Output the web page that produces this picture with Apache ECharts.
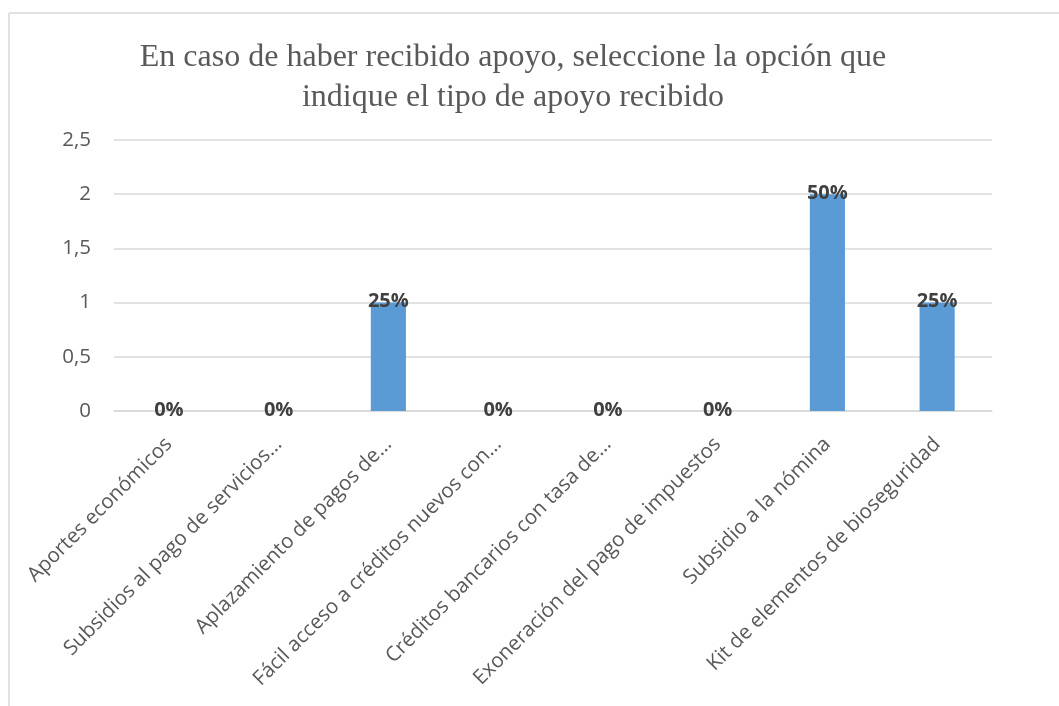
<!DOCTYPE html>
<html>
<head>
<meta charset="utf-8">
<script src="https://cdn.jsdelivr.net/npm/echarts@6/dist/echarts.min.js"></script>
<style>html,body{margin:0;padding:0;background:#fff;}#c{width:1059px;height:706px;}</style>
</head>
<body>
<div id="c"></div>
<script>
const categories = [
  'Aportes económicos',
  'Subsidios al pago de servicios…',
  'Aplazamiento de pagos de…',
  'Fácil acceso a créditos nuevos con…',
  'Créditos bancarios con tasa de…',
  'Exoneración del pago de impuestos',
  'Subsidio a la nómina',
  'Kit de elementos de bioseguridad'
];
const values = [0, 0, 1, 0, 0, 0, 2, 1];
const pctLabels = ['0%', '0%', '25%', '0%', '0%', '0%', '50%', '25%'];
const yTicks = [0, 0.5, 1, 1.5, 2, 2.5];
const titleLines = ['En caso de haber recibido apoyo, seleccione la opción que', 'indique el tipo de apoyo recibido'];

const chart = echarts.init(document.getElementById('c'));
chart.setOption({
  animation: false,
  backgroundColor: '#ffffff',
  title: {
    text: titleLines.join('\n'),
    left: 508,
    textAlign: 'center',
    top: 33,
    textStyle: {
      fontFamily: '"Liberation Serif", "Times New Roman", serif',
      fontSize: 32,
      fontWeight: 'normal',
      color: '#595959',
      lineHeight: 40
    }
  },
  graphic: [
    { type: 'line', shape: { x1: 9, y1: 13, x2: 1059, y2: 13 }, style: { stroke: '#d9d9d9', lineWidth: 1.5 } },
    { type: 'line', shape: { x1: 9, y1: 13, x2: 9, y2: 706 }, style: { stroke: '#d9d9d9', lineWidth: 1.5 } }
  ],
  grid: { left: 114, right: 67, top: 140, height: 271, containLabel: false },
  xAxis: {
    type: 'category',
    data: categories,
    axisLine: { lineStyle: { color: '#d9d9d9', width: 1.5 } },
    axisTick: { show: false },
    axisLabel: {
      rotate: 45,
      interval: 0,
      margin: 30,
      color: '#595959',
      fontSize: 20.5,
      fontFamily: '"Open Sans", sans-serif'
    }
  },
  yAxis: {
    type: 'value',
    min: yTicks[0],
    max: yTicks[yTicks.length - 1],
    interval: 0.5,
    axisLine: { show: false },
    axisTick: { show: false },
    splitLine: { lineStyle: { color: '#d9d9d9', width: 1.5 } },
    axisLabel: {
      margin: 23,
      color: '#595959',
      fontSize: 20.5,
      fontFamily: '"Open Sans", sans-serif',
      formatter: v => String(v).replace('.', ',')
    }
  },
  series: [{
    type: 'bar',
    data: values,
    barWidth: '32%',
    itemStyle: { color: '#5b9bd5' },
    label: {
      show: true,
      position: 'top',
      distance: -9,
      color: '#404040',
      fontSize: 20,
      fontWeight: 'bold',
      fontFamily: '"Open Sans", sans-serif',
      formatter: p => pctLabels[p.dataIndex]
    }
  }]
});
</script>
</body>
</html>
